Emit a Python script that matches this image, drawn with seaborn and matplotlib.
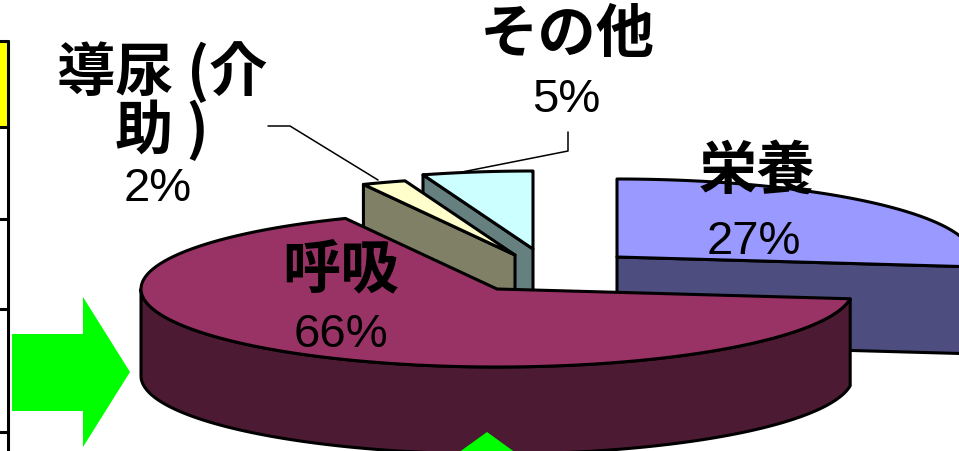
import numpy as np
import matplotlib
matplotlib.use("Agg")
import matplotlib.pyplot as plt
from matplotlib.patches import Polygon
import seaborn as sns

# Care-need breakdown (share of cases, %)
categories = ["その他", "導尿 (介\n助 )", "呼吸", "栄養"]
shares = [5, 2, 66, 27]
pct_labels = ["5%", "2%", "66%", "27%"]

top_colors = ["#CCFFFF", "#FFFFCC", "#993366", "#9999FF"]

sns.set_theme(style="white")
plt.rcParams["font.family"] = ["Noto Sans CJK JP", "DejaVu Sans"]
plt.rcParams["text.color"] = "black"

W, H = 959, 452
fig = plt.figure(figsize=(W / 100, H / 100), dpi=100)
ax = fig.add_axes([0, 0, 1, 1])
ax.set_xlim(0, W)
ax.set_ylim(H, 0)
ax.axis("off")

# 3-D pie geometry (pixel units of the canvas)
RX, RY, DEPTH = 356, 78, 87
START = 90.0           # first slice begins pointing straight back
apexes = [(533, 250), (515, 256), (497, 290), (617, 258)]   # exploded slice centres
EDGE = dict(edgecolor="black", linewidth=2.2, joinstyle="round")


def shade(hex_color, f=0.5):
    r, g, b = matplotlib.colors.to_rgb(hex_color)
    return (r * f, g * f, b * f)


def rim(cx, cy, t_deg, drop=0.0):
    t = np.radians(t_deg)
    return cx + RX * np.cos(t), cy - RY * np.sin(t) + drop


def arc(cx, cy, a, b, drop=0.0, n=120):
    ts = np.radians(np.linspace(a, b, n))
    return np.column_stack([cx + RX * np.cos(ts), cy - RY * np.sin(ts) + drop])


def front_spans(a, b):
    for k in (-360, 0, 360):
        lo, hi = max(a, 180 + k), min(b, 360 + k)
        if hi > lo:
            yield lo, hi


# slice angles from the shares (counter-clockwise)
bounds = START + 3.6 * np.concatenate([[0], np.cumsum(shares)])
slices = [(i, bounds[i], bounds[i + 1]) for i in range(len(shares))]

# paint from back to front
order = sorted(range(len(shares)), key=lambda i: apexes[i][1])
for z, i in enumerate(order):
    _, t1, t2 = slices[i]
    cx, cy = apexes[i]
    side = shade(top_colors[i])
    base_z = 2 + z * 3
    # outer curved wall (front half only)
    for lo, hi in front_spans(t1, t2):
        up = arc(cx, cy, lo, hi)
        dn = arc(cx, cy, lo, hi, DEPTH)[::-1]
        ax.add_patch(Polygon(np.vstack([up, dn]), closed=True, facecolor=side,
                             zorder=base_z, **EDGE))
    # radial cut faces
    for t, visible in ((t1, np.cos(np.radians(t1)) > 1e-6),
                       (t2, np.cos(np.radians(t2)) < -1e-6)):
        if visible:
            rx_, ry_ = rim(cx, cy, t)
            face = [(cx, cy), (rx_, ry_), (rx_, ry_ + DEPTH), (cx, cy + DEPTH)]
            ax.add_patch(Polygon(face, closed=True, facecolor=side,
                                 zorder=base_z + 1, **EDGE))
    # top face
    top = np.vstack([[(cx, cy)], arc(cx, cy, t1, t2)])
    ax.add_patch(Polygon(top, closed=True, facecolor=top_colors[i],
                         zorder=base_z + 2, **EDGE))

# labels
name_pos = [(567, 35), (162, 102), (341, 270), (757, 172)]
pct_pos = [(566, 100), (158, 189), (341, 335), (754, 242)]
for i in range(len(shares)):
    ax.text(*name_pos[i], categories[i], ha="center", va="center",
            fontsize=42, fontweight="bold", linespacing=0.92,
            family=["Noto Sans CJK JP", "DejaVu Sans"], color="black", zorder=30)
    ax.text(*pct_pos[i], pct_labels[i], ha="center", va="center",
            fontsize=34, family=["Liberation Sans", "DejaVu Sans"],
            color="black", zorder=30)

# leader lines for the small slices
ax.plot([268, 290, 378], [127, 127, 181], color="black", lw=1.1, zorder=29)
ax.plot([568, 568, 462], [133, 152, 173], color="black", lw=1.1, zorder=29)

# edge of neighbouring table on the left
ax.add_patch(Polygon([(0, 42), (8, 42), (8, 128), (0, 128)], closed=True,
                     facecolor="#FFFF00", edgecolor="none", zorder=1))
ax.plot([8, 8], [42, H], color="black", lw=2.2, zorder=2)
for yy in (42, 128, 220, 310, 433):
    ax.plot([0, 8], [yy, yy], color="black", lw=2.2, zorder=2)

# green pointer arrows
green = "#00FF00"
ax.add_patch(Polygon([(12, 335), (83, 335), (83, 298), (130, 373), (83, 448),
                      (83, 412), (12, 412)], closed=True, facecolor=green,
                     edgecolor="none", zorder=40))
ax.add_patch(Polygon([(487, 433), (545, 475), (429, 475)], closed=True,
                     facecolor=green, edgecolor="none", zorder=40))

fig.savefig("out.png", dpi=100, facecolor="white")
